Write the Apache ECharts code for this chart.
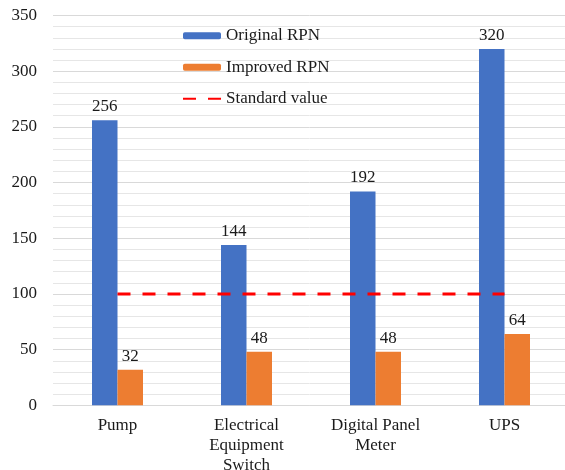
<!DOCTYPE html>
<html>
<head>
<meta charset="utf-8">
<script src="https://cdn.jsdelivr.net/npm/echarts@6/dist/echarts.min.js"></script>
<style>
  html, body { margin: 0; padding: 0; background: #fff; }
  #chart { width: 565px; height: 470px; }
</style>
</head>
<body>
<div id="chart"></div>
<script>
// Risk priority numbers per equipment item
const categories = ['Pump', 'Electrical\nEquipment\nSwitch', 'Digital Panel\nMeter', 'UPS'];
const originalRPN = [256, 144, 192, 320];
const improvedRPN = [32, 48, 48, 64];
const standardValue = [100, 100, 100, 100];
const yTicks = { min: 0, max: 350, interval: 50 };

const FONT = "'Liberation Serif', 'Times New Roman', serif";
const TEXT = '#1a1a1a';
const FS = 17;

const chart = echarts.init(document.getElementById('chart'), null, { renderer: 'canvas' });

const barLabel = {
  show: true,
  position: 'top',
  distance: 5,
  color: TEXT,
  fontFamily: FONT,
  fontSize: FS
};

chart.setOption({
  animation: false,
  backgroundColor: '#fff',
  grid: {
    left: 53, right: -4, top: 15.5, bottom: 64.7,
    containLabel: false,
    outerBoundsMode: 'none'
  },
  legend: {
    orient: 'vertical',
    left: 182,
    top: 27.3,
    padding: 0,
    itemWidth: 38,
    itemHeight: 7,
    itemGap: 14.5,
    textStyle: { color: TEXT, fontFamily: FONT, fontSize: FS, lineHeight: 16 },
    data: [
      'Original RPN',
      'Improved RPN',
      { name: 'Standard value', itemStyle: { opacity: 0 } }
    ]
  },
  xAxis: {
    type: 'category',
    data: categories,
    axisTick: { show: false },
    axisLine: { lineStyle: { color: '#d9d9d9', width: 1 } },
    axisLabel: {
      color: TEXT,
      fontFamily: FONT,
      fontSize: FS,
      lineHeight: 20,
      margin: 10,
      interval: 0
    }
  },
  yAxis: {
    type: 'value',
    min: yTicks.min,
    max: yTicks.max,
    interval: yTicks.interval,
    axisLine: { show: false },
    axisTick: { show: false },
    axisLabel: { color: TEXT, fontFamily: FONT, fontSize: FS, margin: 16 },
    splitLine: { lineStyle: { color: '#d9d9d9', width: 1 } },
    minorTick: { show: false, splitNumber: 5 },
    minorSplitLine: { show: true, lineStyle: { color: '#e6e6e6', width: 1 } }
  },
  series: [
    {
      name: 'Original RPN',
      type: 'bar',
      data: originalRPN,
      barWidth: 25.5,
      barGap: '0%',
      itemStyle: { color: '#4472C4' },
      label: barLabel,
      z: 2
    },
    {
      name: 'Improved RPN',
      type: 'bar',
      data: improvedRPN,
      barWidth: 25.5,
      barGap: '0%',
      itemStyle: { color: '#ED7D31' },
      label: barLabel,
      z: 2
    },
    {
      name: 'Standard value',
      type: 'line',
      data: standardValue,
      symbol: 'none',
      lineStyle: { color: '#FF0000', width: 3, type: [13, 12] },
      itemStyle: { color: '#FF0000' },
      z: 5
    }
  ]
});
</script>
</body>
</html>
